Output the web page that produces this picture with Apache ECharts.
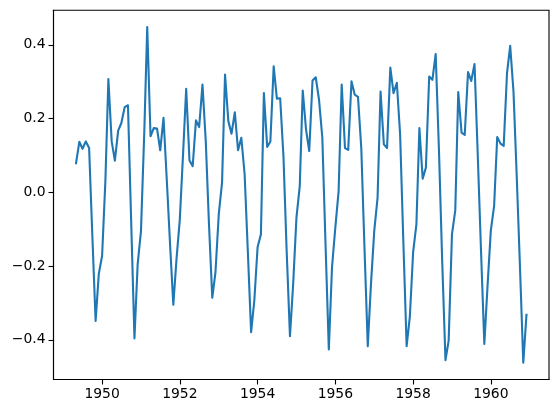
<!DOCTYPE html>
<html><head><meta charset="utf-8">
<script src="https://cdn.jsdelivr.net/npm/echarts@6/dist/echarts.min.js"></script>
<style>html,body{margin:0;padding:0;background:#fff}#c{width:559px;height:413px}</style>
</head><body><div id="c"></div>
<script>
// monthly series starting May 1949
const startYear = 1949;
const startMonth = 5;
const values = [
  0.079, 0.137, 0.118, 0.138, 0.120, -0.115, -0.349, -0.221, -0.172, 0.032,
  0.307, 0.138, 0.086, 0.167, 0.188, 0.231, 0.236, -0.078, -0.396, -0.195,
  -0.106, 0.160, 0.448, 0.152, 0.174, 0.173, 0.114, 0.202, 0.032, -0.138,
  -0.305, -0.181, -0.074, 0.106, 0.281, 0.086, 0.071, 0.195, 0.177, 0.292,
  0.138, -0.085, -0.286, -0.217, -0.060, 0.027, 0.319, 0.193, 0.159, 0.217,
  0.114, 0.148, 0.049, -0.159, -0.379, -0.294, -0.148, -0.114, 0.269, 0.123,
  0.138, 0.342, 0.254, 0.255, 0.096, -0.160, -0.390, -0.249, -0.068, 0.017,
  0.276, 0.170, 0.112, 0.303, 0.312, 0.251, 0.148, -0.140, -0.426, -0.203,
  -0.096, 0.003, 0.292, 0.120, 0.115, 0.301, 0.265, 0.259, 0.120, -0.150,
  -0.417, -0.249, -0.104, -0.015, 0.273, 0.130, 0.120, 0.338, 0.269, 0.297,
  0.156, -0.132, -0.417, -0.338, -0.163, -0.086, 0.174, 0.037, 0.067, 0.314,
  0.305, 0.375, 0.112, -0.185, -0.455, -0.402, -0.114, -0.049, 0.272, 0.162,
  0.156, 0.326, 0.302, 0.348, 0.095, -0.159, -0.411, -0.255, -0.104, -0.037,
  0.150, 0.132, 0.126, 0.323, 0.397, 0.273, 0.039, -0.203, -0.462, -0.332
];
const xTickYears = [1950, 1952, 1954, 1956, 1958, 1960];
const yTicks = [-0.4, -0.2, 0.0, 0.2, 0.4];

const dates = values.map((_, i) => new Date(startYear, startMonth - 1 + i, 1).getTime());
const seriesData = dates.map((d, i) => [d, values[i]]);
const x0 = dates[0], x1 = dates[dates.length - 1], xm = (x1 - x0) * 0.05;
const y0 = Math.min(...values), y1 = Math.max(...values), ym = (y1 - y0) * 0.05;
const font = { fontFamily: 'DejaVu Sans', fontSize: 13.9, color: '#000' };
const xTickVals = xTickYears.map(y => new Date(y, 0, 1).getTime());

const chart = echarts.init(document.getElementById('c'), null, { renderer: 'canvas' });
chart.setOption({
  animation: false,
  backgroundColor: '#fff',
  grid: { left: 53.5, right: 10, top: 10.3, bottom: 33.5, show: true, borderColor: '#000', borderWidth: 1.1 },
  xAxis: {
    type: 'value', min: x0 - xm, max: x1 + xm,
    splitLine: { show: false },
    axisLine: { show: true, onZero: false, lineStyle: { color: '#000', width: 1.1 } },
    axisTick: { show: true, length: 5, inside: false, customValues: xTickVals, lineStyle: { color: '#000', width: 1.1 } },
    axisLabel: Object.assign({}, font, { margin: 8, customValues: xTickVals, hideOverlap: false,
      showMinLabel: true, showMaxLabel: true,
      formatter: v => String(new Date(v).getFullYear()) })
  },
  yAxis: {
    type: 'value', min: y0 - ym, max: y1 + ym,
    splitLine: { show: false },
    axisLine: { show: true, onZero: false, lineStyle: { color: '#000', width: 1.1 } },
    axisTick: { show: true, length: 5, inside: false, customValues: yTicks, lineStyle: { color: '#000', width: 1.1 } },
    axisLabel: Object.assign({}, font, { margin: 8, customValues: yTicks,
      showMinLabel: true, showMaxLabel: true,
      formatter: v => (v < 0 ? '\u2212' : '') + Math.abs(v).toFixed(1) })
  },
  series: [{
    type: 'line', data: seriesData, showSymbol: false, symbol: 'none',
    lineStyle: { color: '#1f77b4', width: 2.1, cap: 'square', join: 'round' },
    itemStyle: { color: '#1f77b4' }
  }]
});
</script></body></html>
